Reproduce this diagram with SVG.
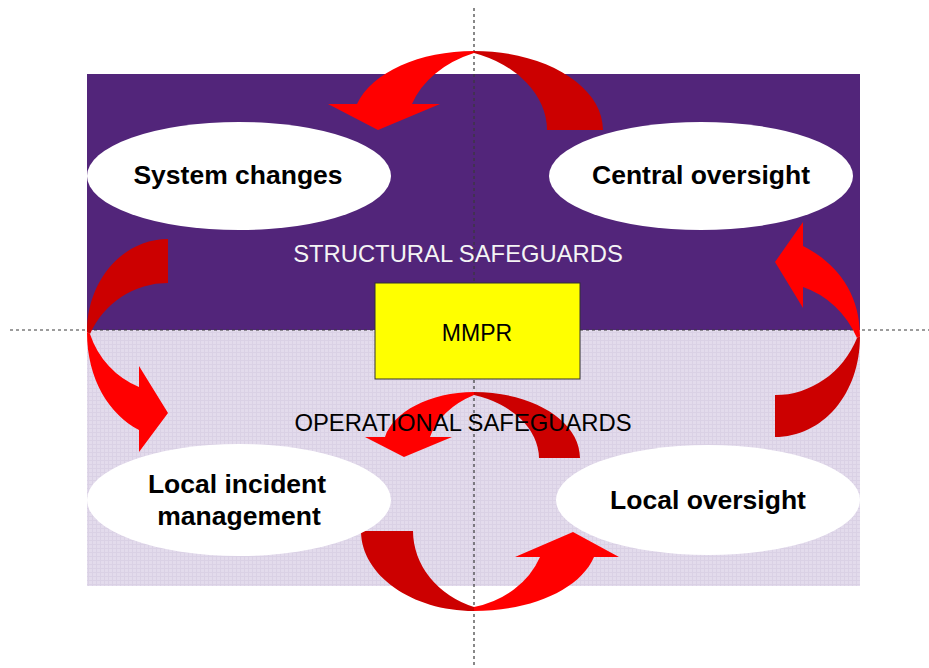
<svg xmlns="http://www.w3.org/2000/svg" width="929" height="668" viewBox="0 0 929 668">
<style>
.dash{stroke:#3a3a3a;stroke-width:1.2;stroke-dasharray:3,3;fill:none}
.dark{fill:#CC0000}
.light{fill:#FF0000}
.node ellipse{fill:#ffffff}
.lbl{font-family:"Liberation Sans",Arial,sans-serif;font-weight:bold;font-size:26.5px;fill:#000;text-anchor:middle}
.zone{font-family:"Liberation Sans",Arial,sans-serif;font-size:23.8px;text-anchor:middle}
</style>
<defs>
<pattern id="tex" width="4" height="4" patternUnits="userSpaceOnUse">
<rect width="4" height="4" fill="#E3DBEC"/>
<rect width="4" height="1" fill="#DAD1E5"/>
<rect width="1" height="4" fill="#DAD1E5"/>
</pattern>
</defs>
<rect width="929" height="668" fill="#ffffff"/>
<g id="background">
<rect x="87" y="74" width="773" height="256" fill="#52257A"/>
<rect x="87" y="330" width="773" height="256" fill="url(#tex)"/>
</g>
<g id="axes">
<line class="dash" x1="474" y1="8" x2="474" y2="668"/>
<line class="dash" x1="10" y1="330" x2="929" y2="330"/>
</g>
<g id="connectors">
<g id="arrow-top">
<path class="dark" d="M603,130 C603,86 545,51 474,51 L474,53 A110,82 0 0 1 547,130 Z"/>
<path class="light" d="M474,51 C420,51 372,72 357,104 L328,104 L378,130 L440,104 L412,104 A110,82 0 0 1 474,53 Z"/>
</g>
<g id="arrow-center">
<path class="dark" d="M580,458 C580,421 533,392 474,392 L474,395 A92,67 0 0 1 539,458 Z"/>
<path class="light" d="M474,392 C430,392 393,412 385,437 L365,437 L404,457 L452,437 L430,437 A92,67 0 0 1 474,395 Z"/>
</g>
<g id="arrow-bottom">
<path class="dark" d="M361,531 C361,575 412,611 474,611 L474,607 A92,81 0 0 1 413,531 Z"/>
<path class="light" d="M474,611 C530,611 580,590 594,557 L619,557 L573,532 L515,557 L540,557 A92,81 0 0 1 474,607 Z"/>
</g>
<g id="arrow-left">
<path class="dark" d="M168,239 C123,239 87,280 87,332 L90,334 A85,87 0 0 1 168,283 Z"/>
<path class="light" d="M87,332 C87,380 110,415 139,430 L139,452 L168,413 L139,366 L139,387 A85,87 0 0 1 90,334 Z"/>
</g>
<g id="arrow-right">
<path class="dark" d="M775,437 C822,437 860,395 860,336 L857,338 A89,95 0 0 1 775,395 Z"/>
<path class="light" d="M860,336 C860,292 835,262 803,246 L803,222 L775,262 L803,308 L803,287 A89,95 0 0 1 857,338 Z"/>
</g>
</g>
<text class="zone" x="458" y="262" fill="#F4F4F4">STRUCTURAL SAFEGUARDS</text>
<text class="zone" x="463" y="431" fill="#000">OPERATIONAL SAFEGUARDS</text>
<g id="node-mmpr">
<rect x="375" y="283" width="205" height="96" fill="#FFFF00" stroke="#333" stroke-width="1"/>
<text x="477" y="341" font-family="'Liberation Sans',Arial,sans-serif" font-size="23px" text-anchor="middle" fill="#000">MMPR</text>
</g>
<g id="node-system-changes" class="node">
<ellipse cx="239" cy="176" rx="152" ry="54"/>
<text class="lbl" x="238" y="184">System changes</text>
</g>
<g id="node-central-oversight" class="node">
<ellipse cx="701" cy="176" rx="152" ry="54"/>
<text class="lbl" x="701" y="184">Central oversight</text>
</g>
<g id="node-local-incident" class="node">
<ellipse cx="239" cy="500" rx="152" ry="56"/>
<text class="lbl" x="237" y="493">Local incident</text>
<text class="lbl" x="239" y="525">management</text>
</g>
<g id="node-local-oversight" class="node">
<ellipse cx="708" cy="500" rx="152" ry="55"/>
<text class="lbl" x="708" y="509">Local oversight</text>
</g>
</svg>
